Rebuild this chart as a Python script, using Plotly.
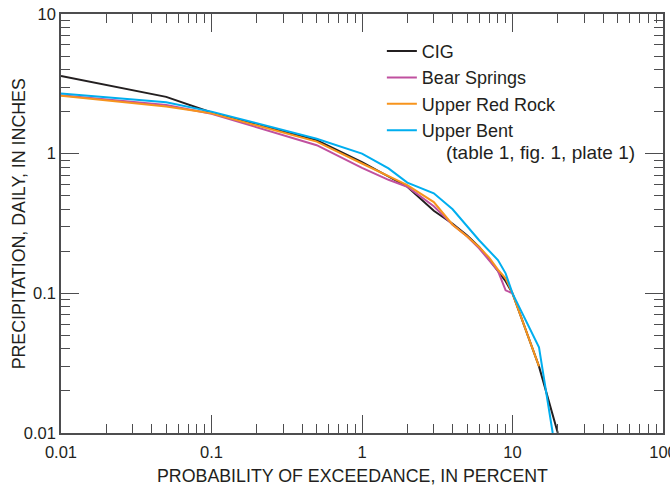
import plotly.graph_objects as go

# Exceedance probability (percent) and daily precipitation (inches)
cig_x = [0.01, 0.05, 0.1, 0.5, 1, 2, 3, 4, 5, 6, 7, 8, 9, 10, 15, 20]
cig_y = [3.6, 2.55, 1.97, 1.25, 0.87, 0.58, 0.39, 0.315, 0.26, 0.215, 0.175, 0.145, 0.122, 0.1, 0.03, 0.01]

bear_x = [0.01, 0.05, 0.1, 0.5, 1, 1.5, 2, 3, 4, 5, 6, 7, 8, 9, 10]
bear_y = [2.62, 2.23, 1.93, 1.15, 0.79, 0.65, 0.58, 0.42, 0.31, 0.255, 0.21, 0.172, 0.145, 0.105, 0.1]

red_x = [0.01, 0.05, 0.1, 0.5, 1, 2, 3, 4, 5, 6, 7, 8, 9, 10, 15]
red_y = [2.6, 2.18, 1.95, 1.22, 0.85, 0.595, 0.45, 0.31, 0.255, 0.215, 0.18, 0.148, 0.128, 0.1, 0.03]

bent_x = [0.01, 0.05, 0.1, 0.5, 1, 1.5, 2, 3, 4, 5, 6, 8, 9, 10, 15, 18.5]
bent_y = [2.7, 2.33, 2.0, 1.28, 1.0, 0.785, 0.62, 0.52, 0.40, 0.305, 0.24, 0.173, 0.139, 0.1, 0.041, 0.01]

series_names = ["CIG", "Bear Springs", "Upper Red Rock", "Upper Bent"]
series_colors = ["#231f20", "#c0509f", "#f7941d", "#00aeef"]

x_tickvals = [0.01, 0.1, 1, 10, 100]
x_ticktext = ["0.01", "0.1", "1", "10", "100"]
y_tickvals = [0.01, 0.1, 1, 10]
y_ticktext = ["0.01", "0.1", "1", "10"]

x_title = "PROBABILITY OF EXCEEDANCE, IN PERCENT"
y_title = "PRECIPITATION, DAILY, IN INCHES"
note_text = "(table 1, fig. 1, plate 1)"

def minor_vals(lo_exp, hi_exp):
    return [d * 10.0 ** k for k in range(lo_exp, hi_exp) for d in range(2, 10)]

fig = go.Figure()
for name, xs, ys, col in zip(series_names, [cig_x, bear_x, red_x, bent_x],
                             [cig_y, bear_y, red_y, bent_y], series_colors):
    fig.add_trace(go.Scatter(x=xs, y=ys, mode="lines", name=name,
                             line=dict(color=col, width=2)))
# helper trace so the mirrored (top / right) axes get drawn
fig.add_trace(go.Scatter(x=[], y=[], xaxis="x2", yaxis="y2", showlegend=False,
                         hoverinfo="skip"))

axis_color = "#4d4d4f"
font_fam = "Liberation Sans, Arial, sans-serif"
text_color = "#231f20"

def axis_style(tickvals, ticktext, minor, rng, show_labels):
    return dict(
        type="log", range=rng, automargin=False,
        tickmode="array", tickvals=tickvals, ticktext=ticktext,
        ticks="inside", ticklen=18, tickwidth=1.3, tickcolor=axis_color,
        minor=dict(tickmode="array", tickvals=minor, ticks="inside",
                   ticklen=9, tickwidth=1.3, tickcolor=axis_color, showgrid=False),
        showline=True, linecolor=axis_color, linewidth=1.5,
        showgrid=False, zeroline=False, showticklabels=show_labels,
        tickfont=dict(size=16.5, color=text_color),
        ticklabeloverflow="allow",
    )

xa = axis_style(x_tickvals, x_ticktext, minor_vals(-2, 2), [-2, 2], True)
xa.update(ticklabelstandoff=3)
ya = axis_style(y_tickvals, y_ticktext, minor_vals(-2, 1), [-2, 1], True)
xa2 = axis_style(x_tickvals, x_ticktext, minor_vals(-2, 2), [-2, 2], False)
xa2.update(overlaying="x", side="top", anchor="y")
ya2 = axis_style(y_tickvals, y_ticktext, minor_vals(-2, 1), [-2, 1], False)
ya2.update(overlaying="y", side="right", anchor="x")

fig.update_layout(
    width=670, height=486,
    margin=dict(l=61, r=7, t=14, b=53, autoexpand=False),
    paper_bgcolor="white", plot_bgcolor="white",
    font=dict(family=font_fam, color=text_color, size=16),
    xaxis=xa, yaxis=ya, xaxis2=xa2, yaxis2=ya2,
    legend=dict(x=0.533, y=0.955, xanchor="left", yanchor="top",
                font=dict(size=18, color=text_color), bgcolor="rgba(0,0,0,0)",
                tracegroupgap=0),
    annotations=[
        dict(text=note_text, xref="paper", yref="paper",
             x=0.636, y=0.669, xanchor="left", yanchor="middle",
             showarrow=False, font=dict(size=19, color=text_color)),
        dict(text=x_title, xref="paper", yref="paper",
             x=0.484, y=-0.1034, xanchor="center", yanchor="middle",
             showarrow=False, font=dict(size=17.8, color=text_color)),
        dict(text=y_title, xref="paper", yref="paper", textangle=-90,
             x=-0.070, y=0.5, xanchor="center", yanchor="middle",
             showarrow=False, font=dict(size=17.8, color=text_color)),
    ],
)

fig.write_html("out.html")
